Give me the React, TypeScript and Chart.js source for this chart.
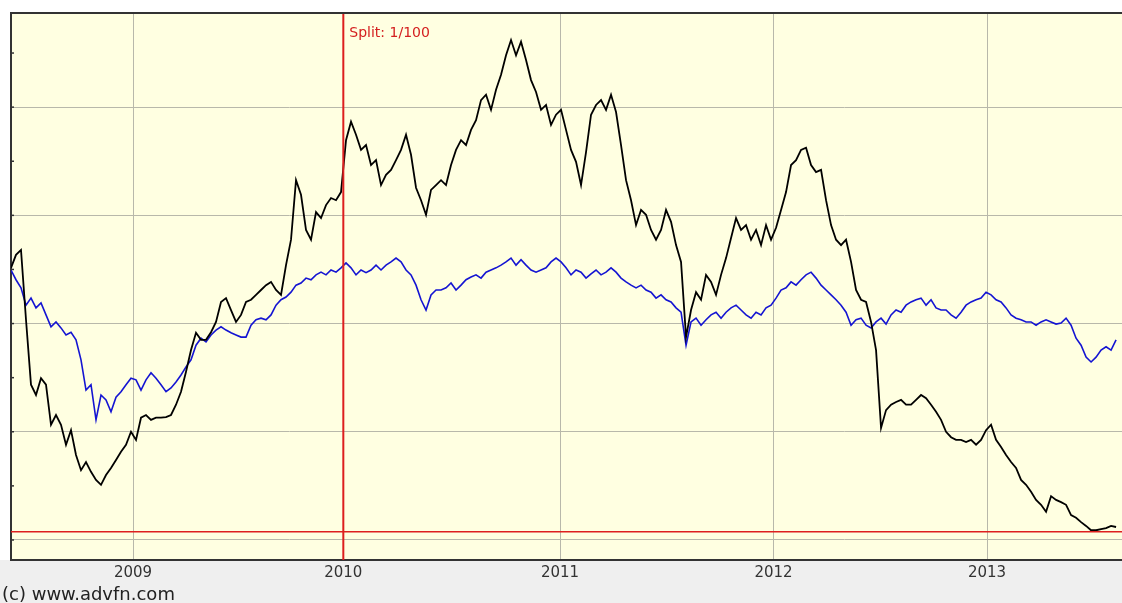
import React, { useEffect, useRef } from "react";
import { Chart, registerables } from "chart.js";

Chart.register(...registerables);

// Sampling of the two series (fractional years)
const START_YEAR = 2008.4286; // first sample, early June 2008
const SAMPLE_YEARS = 0.023419; // about 8.5 days between samples
const X_MIN = 2008.4286;
const X_MAX = 2013.632;

// Share price (black), in axis units
const PRICE = [
  5.03, 5.27, 5.36, 4.07, 2.87, 2.68, 2.99, 2.87, 2.13, 2.31,
  2.13, 1.76, 2.03, 1.57, 1.29, 1.44, 1.26, 1.11, 1.02, 1.20,
  1.33, 1.48, 1.63, 1.76, 2.00, 1.85, 2.26, 2.31, 2.22, 2.26,
  2.26, 2.27, 2.31, 2.50, 2.74, 3.11, 3.51, 3.83, 3.70, 3.70,
  3.84, 4.03, 4.40, 4.47, 4.25, 4.03, 4.16, 4.40, 4.44, 4.53,
  4.62, 4.71, 4.77, 4.62, 4.53, 5.08, 5.55, 6.65, 6.38, 5.73,
  5.55, 6.06, 5.95, 6.19, 6.32, 6.28, 6.43, 7.39, 7.73, 7.49,
  7.21, 7.30, 6.93, 7.02, 6.56, 6.75, 6.84, 7.02, 7.21, 7.49,
  7.12, 6.51, 6.28, 6.01, 6.47, 6.56, 6.65, 6.56, 6.93, 7.21,
  7.39, 7.30, 7.58, 7.76, 8.13, 8.23, 7.95, 8.32, 8.60, 8.96,
  9.24, 8.96, 9.21, 8.87, 8.50, 8.28, 7.95, 8.04, 7.67, 7.86,
  7.95, 7.58, 7.21, 6.99, 6.56, 7.17, 7.86, 8.04, 8.13, 7.95,
  8.23, 7.91, 7.30, 6.65, 6.28, 5.82, 6.10, 6.01, 5.73, 5.55,
  5.73, 6.10, 5.88, 5.45, 5.14, 3.75, 4.25, 4.58, 4.44, 4.90,
  4.77, 4.53, 4.90, 5.21, 5.58, 5.95, 5.73, 5.82, 5.55, 5.73,
  5.45, 5.82, 5.55, 5.77, 6.10, 6.43, 6.93, 7.02, 7.21, 7.25,
  6.93, 6.80, 6.84, 6.28, 5.82, 5.55, 5.45, 5.55, 5.14, 4.62,
  4.44, 4.40, 4.03, 3.51, 2.07, 2.40, 2.50, 2.55, 2.59, 2.50,
  2.50, 2.59, 2.68, 2.62, 2.50, 2.37, 2.22, 2.00, 1.90, 1.85,
  1.85, 1.81, 1.85, 1.76, 1.85, 2.03, 2.13, 1.85, 1.72, 1.57,
  1.44, 1.33, 1.11, 1.02, 0.89, 0.74, 0.65, 0.52, 0.81, 0.74,
  0.70, 0.65, 0.46, 0.41, 0.33, 0.26, 0.18, 0.18, 0.20, 0.22,
  0.26, 0.24,
];

// Comparison index (blue), rebased to the same axis units
const INDEX = [
  4.99, 4.81, 4.66, 4.34, 4.47, 4.29, 4.38, 4.16, 3.94, 4.03,
  3.92, 3.79, 3.84, 3.70, 3.33, 2.77, 2.87, 2.22, 2.68, 2.59,
  2.37, 2.64, 2.74, 2.87, 2.99, 2.96, 2.77, 2.96, 3.09, 2.99,
  2.87, 2.74, 2.81, 2.92, 3.05, 3.20, 3.33, 3.60, 3.73, 3.66,
  3.79, 3.88, 3.94, 3.88, 3.83, 3.79, 3.75, 3.75, 3.97, 4.07,
  4.10, 4.07, 4.16, 4.34, 4.44, 4.49, 4.58, 4.71, 4.75, 4.84,
  4.81, 4.90, 4.95, 4.90, 4.99, 4.95, 5.03, 5.12, 5.03, 4.90,
  4.99, 4.94, 4.99, 5.08, 4.99, 5.08, 5.14, 5.21, 5.14, 4.99,
  4.90, 4.71, 4.44, 4.25, 4.53, 4.62, 4.62, 4.66, 4.75, 4.62,
  4.71, 4.81, 4.86, 4.90, 4.84, 4.95, 4.99, 5.03, 5.08, 5.14,
  5.21, 5.08, 5.18, 5.08, 4.99, 4.95, 4.99, 5.03, 5.14, 5.21,
  5.14, 5.03, 4.90, 4.99, 4.95, 4.84, 4.92, 4.99, 4.90, 4.95,
  5.03, 4.95, 4.84, 4.77, 4.71, 4.66, 4.71, 4.62, 4.58, 4.47,
  4.53, 4.44, 4.40, 4.29, 4.21, 3.60, 4.03, 4.10, 3.97, 4.07,
  4.16, 4.21, 4.10, 4.21, 4.29, 4.34, 4.25, 4.16, 4.10, 4.21,
  4.16, 4.29, 4.34, 4.47, 4.62, 4.66, 4.77, 4.71, 4.81, 4.90,
  4.95, 4.84, 4.71, 4.62, 4.53, 4.44, 4.34, 4.21, 3.97, 4.07,
  4.10, 3.97, 3.92, 4.03, 4.10, 3.99, 4.16, 4.25, 4.21, 4.34,
  4.40, 4.44, 4.47, 4.34, 4.44, 4.29, 4.25, 4.25, 4.16, 4.10,
  4.21, 4.34, 4.40, 4.44, 4.47, 4.58, 4.53, 4.44, 4.40, 4.29,
  4.16, 4.10, 4.07, 4.03, 4.03, 3.97, 4.03, 4.07, 4.03, 3.99,
  4.01, 4.10, 3.97, 3.73, 3.60, 3.38, 3.29, 3.38, 3.51, 3.57,
  3.51, 3.70,
];

const YEAR_TICKS = [2009, 2009.985, 2011, 2012, 2013];
const YEAR_LABELS = ["2009", "2010", "2011", "2012", "2013"];
const Y_TICKS = [0, 1, 2, 3, 4, 5, 6, 7, 8, 9];
const Y_MIN = -0.37;
const Y_MAX = 9.74;

const SPLIT_DATE = 2009.985;
const SPLIT_LABEL = "Split: 1/100";
const REF_LEVEL = 0.15;
const COPYRIGHT = "(c) www.advfn.com";

const FONT = '"DejaVu Sans", Verdana, sans-serif';

const framePlugin = {
  id: "frame",
  beforeDraw(chart: any) {
    const { ctx, chartArea: a, width, height } = chart;
    ctx.save();
    ctx.fillStyle = "#ffffff";
    ctx.fillRect(0, 0, width, height);
    ctx.fillStyle = "#efefef";
    ctx.fillRect(0, a.bottom, width, height - a.bottom);
    ctx.fillStyle = "#ffffe1";
    ctx.fillRect(a.left, a.top, a.right - a.left, a.bottom - a.top);
    ctx.restore();
  },
  afterDraw(chart: any) {
    const { ctx, chartArea: a, scales } = chart;
    ctx.save();
    ctx.strokeStyle = "#333333";
    ctx.lineWidth = 2;
    ctx.beginPath();
    ctx.moveTo(a.left - 1, a.top);
    ctx.lineTo(chart.width, a.top);
    ctx.stroke();
    // small minor tick marks on the left border
    ctx.lineWidth = 1.5;
    Y_TICKS.forEach((v) => {
      const y = scales.y.getPixelForValue(v);
      ctx.beginPath();
      ctx.moveTo(a.left, y);
      ctx.lineTo(a.left + 3, y);
      ctx.stroke();
    });
    const sx = scales.x.getPixelForValue(SPLIT_DATE);
    ctx.fillStyle = "#d42020";
    ctx.font = `14px ${FONT}`;
    ctx.textBaseline = "alphabetic";
    ctx.textAlign = "left";
    ctx.fillText(SPLIT_LABEL, sx + 6, a.top + 24);
    ctx.fillStyle = "#222222";
    ctx.font = `18px ${FONT}`;
    ctx.fillText(COPYRIGHT, 2, chart.height - 3);
    ctx.restore();
  },
};

export default function App() {
  const ref = useRef<HTMLCanvasElement | null>(null);

  useEffect(() => {
    if (!ref.current) return;
    const toPoints = (arr: number[]) =>
      arr.map((v, i) => ({ x: START_YEAR + i * SAMPLE_YEARS, y: v }));

    const chart = new Chart(ref.current, {
      type: "line",
      data: {
        datasets: [
          {
            label: "split",
            data: [
              { x: SPLIT_DATE, y: Y_MIN - 1 },
              { x: SPLIT_DATE, y: Y_MAX + 1 },
            ],
            borderColor: "#dd1f1f",
            borderWidth: 2,
            pointRadius: 0,
            clip: 0,
          },
          {
            label: "ref",
            data: [
              { x: X_MIN - 1, y: REF_LEVEL },
              { x: X_MAX + 1, y: REF_LEVEL },
            ],
            borderColor: "#dd1f1f",
            borderWidth: 1.5,
            pointRadius: 0,
            clip: 0,
          },
          {
            label: "Price",
            data: toPoints(PRICE),
            borderColor: "#000000",
            borderWidth: 1.8,
            pointRadius: 0,
            tension: 0,
          },
          {
            label: "Index",
            data: toPoints(INDEX),
            borderColor: "#1414d2",
            borderWidth: 1.6,
            pointRadius: 0,
            tension: 0,
          },
        ],
      },
      options: {
        animation: false,
        responsive: false,
        maintainAspectRatio: false,
        devicePixelRatio: 1,
        layout: { padding: { left: 11, top: 13, right: 0, bottom: 17 } },
        plugins: {
          legend: { display: false },
          tooltip: { enabled: false },
          title: { display: false },
        },
        scales: {
          x: {
            type: "linear",
            min: X_MIN,
            max: X_MAX,
            afterBuildTicks: (scale: any) => {
              scale.ticks = YEAR_TICKS.map((v) => ({ value: v }));
            },
            ticks: {
              callback: (_v: any, i: number) => YEAR_LABELS[i],
              color: "#333333",
              font: { family: FONT, size: 15 },
              padding: 4,
              maxRotation: 0,
              autoSkip: false,
            },
            grid: { color: "#b8b8aa", lineWidth: 1, drawTicks: false },
            border: { color: "#333333", width: 2 },
          },
          y: {
            type: "linear",
            min: Y_MIN,
            max: Y_MAX,
            afterBuildTicks: (scale: any) => {
              scale.ticks = Y_TICKS.map((v) => ({ value: v }));
            },
            ticks: { display: false },
            grid: {
              drawTicks: false,
              lineWidth: 1,
              color: (c: any) =>
                c.tick && c.tick.value % 2 === 0 ? "#b8b8aa" : "rgba(0,0,0,0)",
            },
            border: { color: "#333333", width: 2 },
          },
        },
      },
      plugins: [framePlugin],
    } as any);
    return () => chart.destroy();
  }, []);

  return (
    <div style={{ position: "absolute", left: 0, top: 0, width: 1122, height: 603 }}>
      <canvas ref={ref} width={1122} height={603} style={{ display: "block" }} />
    </div>
  );
}
